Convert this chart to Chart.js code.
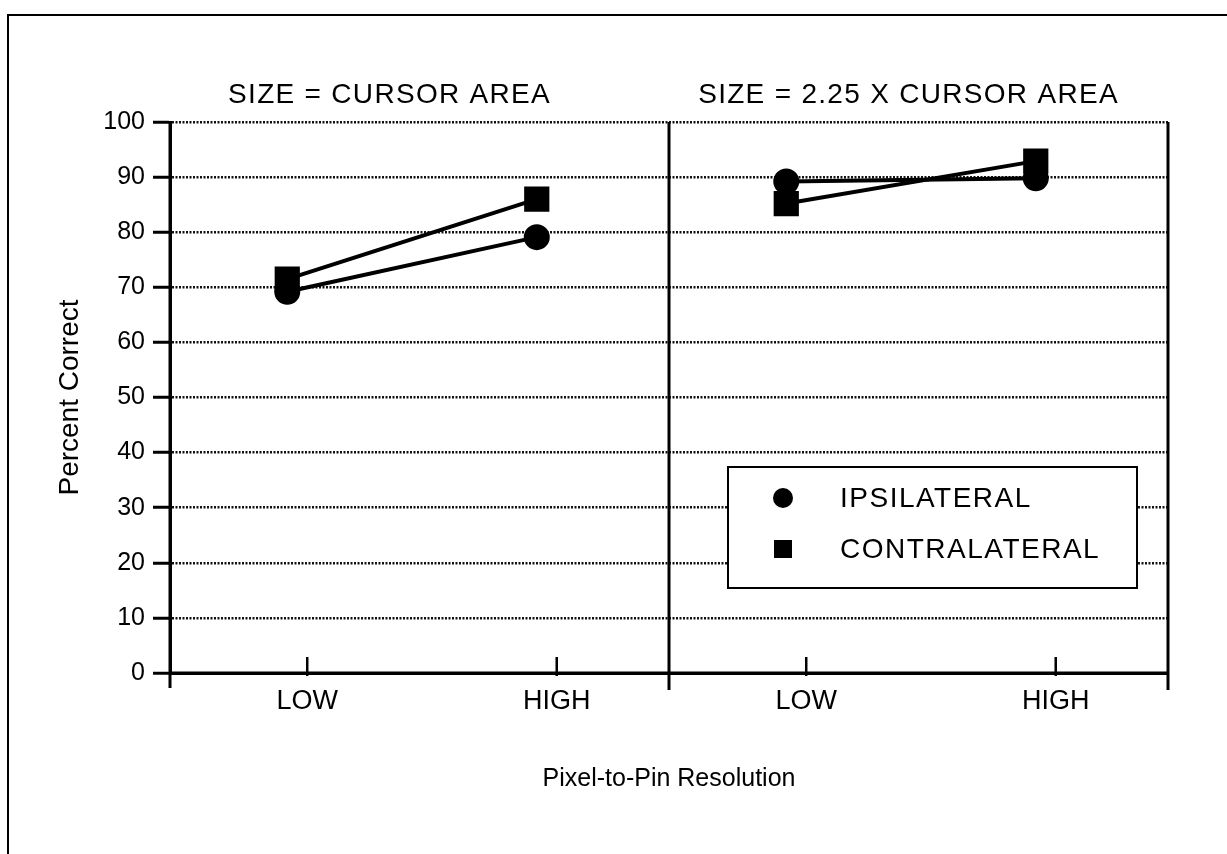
<!DOCTYPE html>
<html>
<head>
<meta charset="utf-8">
<title>Percent Correct by Pixel-to-Pin Resolution</title>
<script src="https://cdn.jsdelivr.net/npm/chart.js@4.4.1/dist/chart.umd.min.js"></script>
<style>
  html, body { margin: 0; padding: 0; background: #fff; overflow: hidden; }
  #myChart { display: block; }
</style>
</head>
<body>
<canvas id="myChart" width="1227" height="854"></canvas>
<script>
// data
const categories = ['LOW', 'HIGH'];
const panels = ['SIZE = CURSOR AREA', 'SIZE = 2.25 X CURSOR AREA'];
const ipsilateral = [69.2, 79.1, 89.2, 89.8];
const contralateral = [71.5, 86.0, 85.2, 92.9];
const yTicks = [0, 10, 20, 30, 40, 50, 60, 70, 80, 90, 100];

Chart.defaults.font.family = "'Liberation Sans', Arial, sans-serif";
Chart.defaults.color = '#000';

// each panel takes 2 units on the x axis
function toPoints(values) {
  const pts = [];
  values.forEach((v, i) => {
    const panel = Math.floor(i / categories.length);
    const k = i % categories.length;
    if (k === 0 && panel > 0) pts.push({ x: panel * 2, y: null });
    pts.push({ x: panel * 2 + k + 0.47, y: v });
  });
  return pts;
}

const tickPos = [];
panels.forEach((p, pi) => categories.forEach((c, ci) => tickPos.push(pi * 2 + ci + 0.55)));

function line(c, x1, y1, x2, y2) {
  c.beginPath();
  c.moveTo(x1, y1);
  c.lineTo(x2, y2);
  c.stroke();
}

const extras = {
  id: 'extras',
  beforeDraw(chart) {
    const c = chart.ctx;
    c.save();
    c.fillStyle = '#fff';
    c.fillRect(0, 0, chart.width, chart.height);
    // outer frame of the scan
    c.strokeStyle = '#000';
    c.lineWidth = 2;
    c.beginPath();
    c.moveTo(8, chart.height);
    c.lineTo(8, 15);
    c.lineTo(chart.width, 15);
    c.stroke();
    c.restore();
  },
  afterDraw(chart) {
    const c = chart.ctx;
    const a = chart.chartArea;
    const x = chart.scales.x;
    c.save();
    c.setLineDash([]);
    c.strokeStyle = '#000';
    c.lineWidth = 3;
    // y axis, panel divider and right edge
    line(c, a.left, a.top, a.left, a.bottom + 15);
    [2, 4].forEach(v => {
      const px = x.getPixelForValue(v);
      line(c, px, a.top, px, a.bottom + 17);
    });
    line(c, a.left, a.bottom, a.right, a.bottom);
    // small ticks above the axis
    c.lineWidth = 2.5;
    tickPos.forEach(v => {
      const px = x.getPixelForValue(v);
      line(c, px, a.bottom - 16, px, a.bottom + 3);
    });

    // panel titles
    c.fillStyle = '#000';
    c.font = "28px 'Liberation Sans', Arial, sans-serif";
    c.letterSpacing = '1.3px';
    c.textAlign = 'center';
    c.textBaseline = 'middle';
    const titleAt = [0.88, 2.96];
    panels.forEach((p, i) => c.fillText(p, x.getPixelForValue(titleAt[i]), 95));

    // legend box
    const bx = a.right - 440, by = a.top + 345, bw = 409, bh = 121;
    c.fillStyle = '#fff';
    c.fillRect(bx, by, bw, bh);
    c.lineWidth = 2;
    c.strokeRect(bx, by, bw, bh);
    c.fillStyle = '#000';
    c.textAlign = 'left';
    c.letterSpacing = '1.5px';
    chart.data.datasets.forEach((ds, i) => {
      const cy = by + 31 + i * 51;
      const cx = bx + 55;
      if (ds.pointStyle === 'circle') {
        c.beginPath();
        c.arc(cx, cy, 10, 0, Math.PI * 2);
        c.fill();
      } else {
        c.fillRect(cx - 9, cy - 9, 18, 18);
      }
      c.fillText(ds.label, bx + 112, cy + 1);
    });
    c.restore();
  }
};

const ctx = document.getElementById('myChart').getContext('2d');

new Chart(ctx, {
  type: 'line',
  data: {
    datasets: [{
      label: 'IPSILATERAL',
      data: toPoints(ipsilateral),
      borderColor: '#000',
      backgroundColor: '#000',
      borderWidth: 4,
      pointStyle: 'circle',
      pointRadius: 11,
      spanGaps: false
    }, {
      label: 'CONTRALATERAL',
      data: toPoints(contralateral),
      borderColor: '#000',
      backgroundColor: '#000',
      borderWidth: 4,
      pointStyle: 'rect',
      pointRadius: 15,
      spanGaps: false
    }]
  },
  options: {
    responsive: false,
    animation: false,
    layout: { padding: { top: 122, right: 59, left: 0, bottom: 0 } },
    plugins: {
      legend: { display: false },
      tooltip: { enabled: false }
    },
    scales: {
      x: {
        type: 'linear',
        min: 0,
        max: 4,
        afterBuildTicks: (scale) => { scale.ticks = tickPos.map(v => ({ value: v })); },
        afterFit: (scale) => { scale.height = 181; },
        grid: { display: false, drawTicks: false },
        border: { display: true, color: '#000', width: 3 },
        ticks: {
          autoSkip: false,
          maxRotation: 0,
          padding: 12,
          font: { size: 27 },
          callback: (value, index) => categories[index % categories.length]
        },
        title: {
          display: true,
          text: 'Pixel-to-Pin Resolution',
          font: { size: 25 },
          padding: { bottom: 60 }
        }
      },
      y: {
        min: 0,
        max: 100,
        afterBuildTicks: (scale) => { scale.ticks = yTicks.map(v => ({ value: v })); },
        afterFit: (scale) => { scale.width = 170; },
        ticks: { font: { size: 25 }, padding: 8 },
        grid: {
          color: '#111',
          lineWidth: 2.5,
          tickLength: 17,
          tickColor: '#000',
          tickWidth: 3,
          tickBorderDash: []
        },
        border: { color: '#000', width: 3, dash: [2, 1.5] },
        title: {
          display: true,
          text: 'Percent Correct',
          font: { size: 28 },
          padding: { top: 53 }
        }
      }
    }
  },
  plugins: [extras]
});
</script>
</body>
</html>
